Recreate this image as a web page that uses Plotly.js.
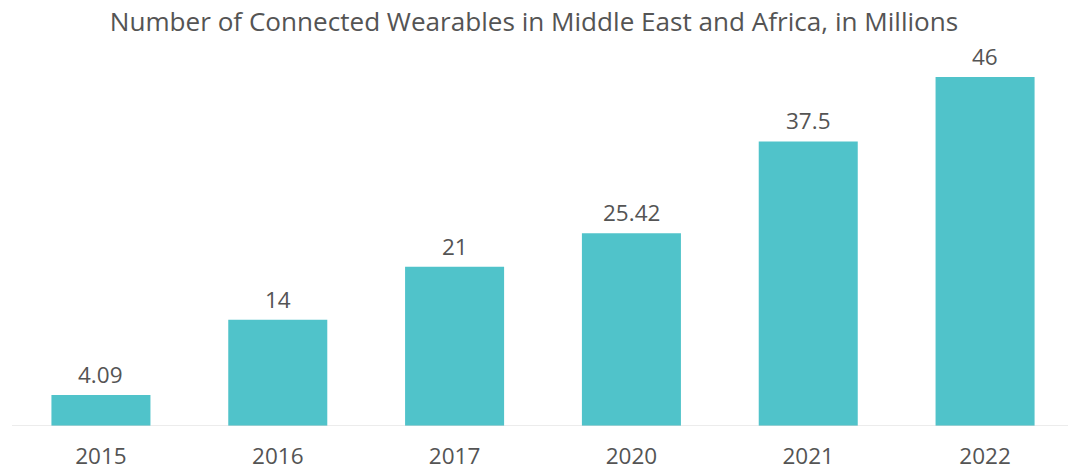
<!DOCTYPE html>
<html>
<head>
<meta charset="utf-8">
<script src="https://cdn.plot.ly/plotly-3.0.1.min.js"></script>
<style>
  html, body { margin: 0; padding: 0; background: #ffffff; }
  #chart { width: 1068px; height: 470px; }
</style>
</head>
<body>
<div id="chart"></div>
<script>
// Connected wearables shipped in the Middle East and Africa (millions)
const years = ['2015', '2016', '2017', '2020', '2021', '2022'];
const units = [4.09, 14, 21, 25.42, 37.5, 46];
const unitLabels = ['4.09', '14', '21', '25.42', '37.5', '46'];

const textColor = '#545454';
const barColor = '#50C3CA';
const fontFamily = '"Open Sans", "DejaVu Sans", sans-serif';

const bars = {
  type: 'bar',
  x: years,
  y: units,
  width: 0.56,
  marker: { color: barColor },
  hoverinfo: 'x+y'
};

// Value labels sitting just above each bar (category index as x position)
const valueLabels = years.map((yr, i) => ({
  x: i,
  y: units[i],
  text: unitLabels[i],
  showarrow: false,
  xanchor: 'center',
  yanchor: 'bottom',
  yshift: 3,
  font: { family: fontFamily, size: 22.5, color: textColor }
}));

const layout = {
  width: 1068,
  height: 470,
  margin: { l: 12, r: 0, t: 60, b: 44 },
  paper_bgcolor: '#ffffff',
  plot_bgcolor: '#ffffff',
  showlegend: false,
  title: {
    text: 'Number of Connected Wearables in Middle East and Africa, in Millions',
    font: { family: fontFamily, size: 26.1, color: textColor },
    x: 0.5,
    xanchor: 'center',
    y: 0.953,
    yanchor: 'middle'
  },
  xaxis: {
    type: 'category',
    range: [-0.503, 5.469],
    showgrid: false,
    zeroline: false,
    showline: false,
    ticks: 'outside',
    ticklen: 10,
    tickcolor: 'rgba(0,0,0,0)',
    tickfont: { family: fontFamily, size: 22.5, color: textColor }
  },
  yaxis: {
    range: [0, 48.24],
    showgrid: false,
    zeroline: false,
    showline: false,
    showticklabels: false
  },
  shapes: [{
    type: 'line',
    xref: 'paper', yref: 'y',
    x0: 0, x1: 1, y0: 0, y1: 0,
    line: { color: '#d9d9d9', width: 1 }
  }],
  annotations: valueLabels
};

Plotly.newPlot('chart', [bars], layout, { displayModeBar: false, staticPlot: true });
</script>
</body>
</html>
